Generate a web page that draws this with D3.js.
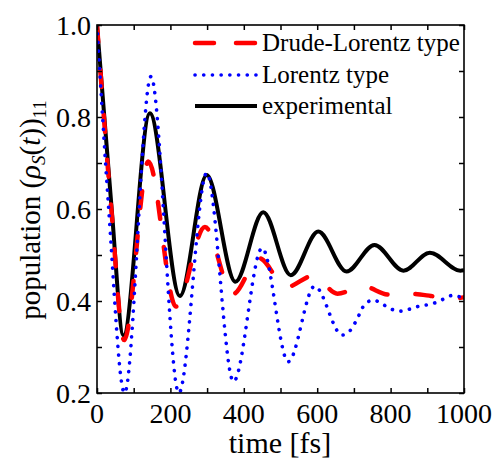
<!DOCTYPE html>
<html>
<head>
<meta charset="utf-8">
<script src="https://cdn.jsdelivr.net/npm/d3@7"></script>
<style>
html,body{margin:0;padding:0;background:#fff;}
svg{display:block;}
</style>
</head>
<body>
<svg id="chart" width="499" height="459" font-family="'Liberation Serif', 'Times New Roman', Times, 'DejaVu Serif', serif"></svg>
<script>
// ---- data ----
const xMajorTicks = [0, 200, 400, 600, 800, 1000];
const xMinorTicks = [100, 300, 500, 700, 900];
const yMajorTicks = [0.2, 0.4, 0.6, 0.8, 1.0];
const yMinorTicks = [0.3, 0.5, 0.7, 0.9];
const yTickLabels = ["0.2", "0.4", "0.6", "0.8", "1.0"];
const xTickLabels = ["0", "200", "400", "600", "800", "1000"];

const seriesNames = ["Drude-Lorentz type", "Lorentz type", "experimental"];

const drudeT = [0, 39, 74, 140, 215, 294, 370, 442, 515, 590, 655, 725, 795, 845, 910, 960, 1000];
const drudeV = [1.0, 0.60, 0.315, 0.703, 0.388, 0.561, 0.415, 0.493, 0.430, 0.455, 0.416, 0.432, 0.414, 0.416, 0.411, 0.405, 0.408];

const lorentzT = [0, 31, 75, 147, 223, 299, 372, 450, 521, 593, 668, 690, 705, 730, 753, 778, 803, 826, 874, 921, 944, 968, 1000];
const lorentzV = [1.0, 0.61, 0.20, 0.888, 0.20, 0.678, 0.225, 0.515, 0.268, 0.432, 0.326, 0.336, 0.355, 0.393, 0.402, 0.393, 0.382, 0.378, 0.388, 0.396, 0.404, 0.412, 0.406];

const expT = [0, 40, 72, 144, 226, 299, 377, 453, 528, 603, 680, 756, 835, 907, 990, 1000];
const expV = [1.0, 0.60, 0.325, 0.808, 0.411, 0.674, 0.442, 0.593, 0.456, 0.551, 0.464, 0.522, 0.466, 0.505, 0.466, 0.467];

// ---- layout ----
const FONT = "'Liberation Serif', 'Times New Roman', Times, 'DejaVu Serif', serif";
const L = 97, R = 464, T = 25, B = 393;
const svg = d3.select("#chart");
const x = d3.scaleLinear().domain([0, 1000]).range([L, R]);
const y = d3.scaleLinear().domain([0.2, 1.0]).range([B, T]);

svg.append("defs").append("clipPath").attr("id", "clip")
  .append("rect").attr("x", L).attr("y", T).attr("width", R - L).attr("height", B - T);

const styles = [
  {color: "#ff0000", width: 4.5, dash: "17 28", cap: "round"},
  {color: "#0000ff", width: 3.6, dash: "0.1 8.6", cap: "round"},
  {color: "#000000", width: 4, dash: null, cap: "butt"}
];
const data = [
  d3.zip(drudeT, drudeV),
  d3.zip(lorentzT, lorentzV),
  d3.zip(expT, expV)
];

const line = d3.line().x(d => x(d[0])).y(d => y(d[1])).curve(d3.curveMonotoneX);
const plot = svg.append("g").attr("clip-path", "url(#clip)");
const order = [2, 0, 1];
order.forEach(i => {
  const p = plot.append("path").datum(data[i])
    .attr("d", line)
    .attr("fill", "none")
    .attr("stroke", styles[i].color)
    .attr("stroke-width", styles[i].width)
    .attr("stroke-linecap", styles[i].cap)
    .attr("stroke-linejoin", "round");
  if (styles[i].dash) p.attr("stroke-dasharray", styles[i].dash);
});

// ---- axes (ticks inside, all four sides) ----
const tl = 5;
const axB = svg.append("g").attr("transform", `translate(0,${B})`)
  .call(d3.axisBottom(x).tickValues(xMajorTicks.concat(xMinorTicks)).tickSize(-tl).tickFormat(""));
const axT = svg.append("g").attr("transform", `translate(0,${T})`)
  .call(d3.axisTop(x).tickValues(xMajorTicks.concat(xMinorTicks)).tickSize(-tl).tickFormat(""));
const axL = svg.append("g").attr("transform", `translate(${L},0)`)
  .call(d3.axisLeft(y).tickValues(yMajorTicks.concat(yMinorTicks)).tickSize(-tl).tickFormat(""));
const axR = svg.append("g").attr("transform", `translate(${R},0)`)
  .call(d3.axisRight(y).tickValues(yMajorTicks.concat(yMinorTicks)).tickSize(-tl).tickFormat(""));
[axB, axT, axL, axR].forEach(a => {
  a.select(".domain").remove();
  a.selectAll(".tick line").attr("stroke", "#000").attr("stroke-width", 1.5);
});
svg.append("rect").attr("x", L).attr("y", T).attr("width", R - L).attr("height", B - T)
  .attr("fill", "none").attr("stroke", "#000").attr("stroke-width", 1.6);

// tick labels
svg.append("g").attr("font-family", FONT).selectAll("text").data(xMajorTicks).join("text")
  .attr("x", d => x(d)).attr("y", 423)
  .attr("text-anchor", "middle").attr("font-size", 28)
  .text((d, i) => xTickLabels[i]);
svg.append("g").attr("font-family", FONT).selectAll("text").data(yMajorTicks).join("text")
  .attr("x", 91).attr("y", d => y(d)).attr("dy", "0.35em")
  .attr("text-anchor", "end").attr("font-size", 28)
  .text((d, i) => yTickLabels[i]);

// axis titles
svg.append("text").attr("font-family", FONT).attr("x", 280).attr("y", 453).attr("text-anchor", "middle")
  .attr("font-size", 30).text("time [fs]");
const yt = svg.append("text").attr("font-family", FONT).attr("transform", "translate(40,210) rotate(-90)")
  .attr("text-anchor", "middle").attr("font-size", 29);
yt.append("tspan").text("population (");
yt.append("tspan").attr("font-style", "italic").text("ρ");
yt.append("tspan").attr("font-style", "italic").attr("font-size", 19).attr("dy", 5).text("S");
yt.append("tspan").attr("dy", -5).text("(");
yt.append("tspan").attr("font-style", "italic").text("t");
yt.append("tspan").text("))");
yt.append("tspan").attr("font-size", 19).attr("dy", 6).text("11");

// legend
const legY = [43, 75, 106];
seriesNames.forEach((name, i) => {
  const l = svg.append("line").attr("x1", 195).attr("x2", 257)
    .attr("y1", legY[i]).attr("y2", legY[i])
    .attr("stroke", styles[i].color).attr("stroke-width", styles[i].width)
    .attr("stroke-linecap", styles[i].cap);
  if (styles[i].dash) l.attr("stroke-dasharray", i === 0 ? "19 22" : styles[i].dash);
  svg.append("text").attr("font-family", FONT).attr("x", 262).attr("y", legY[i] + 8)
    .attr("font-size", 25).text(name);
});
</script>
</body>
</html>
